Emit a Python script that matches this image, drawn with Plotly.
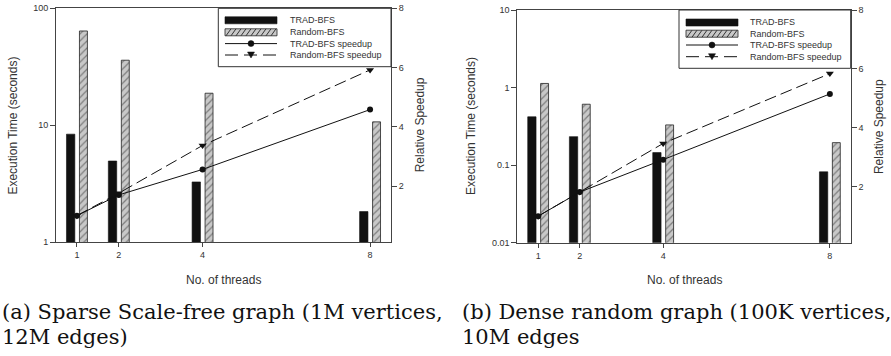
import plotly.graph_objects as go

# ---------------- data ----------------
threads = [1, 2, 4, 8]

sparse_trad_time = [8.4, 4.95, 3.28, 1.83]
sparse_random_time = [64, 36, 18.8, 10.7]
sparse_trad_speedup = [1.0, 1.70, 2.56, 4.58]
sparse_random_speedup = [1.0, 1.76, 3.37, 5.92]

dense_trad_time = [0.42, 0.233, 0.145, 0.082]
dense_random_time = [1.13, 0.61, 0.33, 0.195]
dense_trad_speedup = [1.0, 1.82, 2.92, 5.15]
dense_random_speedup = [1.0, 1.82, 3.47, 5.84]

series_names = ["TRAD-BFS", "Random-BFS", "TRAD-BFS speedup", "Random-BFS speedup"]
sparse_time_ticks = [1, 10, 100]
dense_time_ticks = [0.01, 0.1, 1, 10]
dense_time_labels = ["0.01", "0.1", "1", "10"]
speedup_ticks = [2, 4, 6, 8]
caption_a = ["(a) Sparse Scale-free graph (1M vertices,", "12M edges)"]
caption_b = ["(b) Dense random graph (100K vertices,", "10M edges"]

# ---------------- styles ----------------
W, H = 891, 356
SANS = "Liberation Sans, Arial, sans-serif"
SERIF = "DejaVu Serif, serif"
AX = "#444444"
TXT = "#333333"
INK = "#111111"
HATCH_BG = "#c8c8c8"

fig = go.Figure()


def add_panel(xa, ya_time, ya_speed, trad_t, rand_t, trad_s, rand_s):
    fig.add_trace(go.Bar(
        x=threads, y=trad_t, name=series_names[0], width=0.2, offset=-0.25,
        marker=dict(color=INK, line=dict(color=INK, width=0.6)),
        xaxis=xa, yaxis=ya_time, showlegend=False))
    fig.add_trace(go.Bar(
        x=threads, y=rand_t, name=series_names[1], width=0.19, offset=0.06,
        marker=dict(color=HATCH_BG, line=dict(color="#222222", width=0.8),
                    pattern=dict(shape="/", fgcolor="#333333", size=5,
                                 solidity=0.25, fillmode="overlay")),
        xaxis=xa, yaxis=ya_time, showlegend=False))
    fig.add_trace(go.Scatter(
        x=threads, y=trad_s, name=series_names[2], mode="lines+markers",
        line=dict(color=INK, width=1),
        marker=dict(symbol="circle", size=6, color=INK),
        xaxis=xa, yaxis=ya_speed, showlegend=False))
    fig.add_trace(go.Scatter(
        x=threads, y=rand_s, name=series_names[3], mode="lines+markers",
        line=dict(color=INK, width=1, dash="12px,5px"),
        marker=dict(symbol="triangle-down", size=7, color=INK),
        xaxis=xa, yaxis=ya_speed, showlegend=False))


add_panel("x", "y", "y2", sparse_trad_time, sparse_random_time,
          sparse_trad_speedup, sparse_random_speedup)
add_panel("x2", "y3", "y4", dense_trad_time, dense_random_time,
          dense_trad_speedup, dense_random_speedup)

# panel geometry (pixels -> paper)
L1, R1, T1, B1 = 56, 391, 8.3, 242.3
L2, R2, T2, B2 = 517.3, 850.7, 10, 242.7


def px(x):
    return x / W


def py(y):
    return 1 - y / H


common_x = dict(range=[0.5, 8.5], tickvals=threads, ticks="outside", ticklen=4,
                tickcolor=AX, showline=True, linecolor=AX, linewidth=1, mirror=True,
                showgrid=False, zeroline=False,
                tickfont=dict(family=SANS, size=9, color=TXT))
common_y = dict(ticks="outside", ticklen=5, tickcolor=AX, showline=True,
                linecolor=AX, linewidth=1, showgrid=False, zeroline=False,
                tickfont=dict(family=SANS, size=9, color=TXT))

fig.update_layout(
    width=W, height=H, margin=dict(l=0, r=0, t=0, b=0),
    template="none", paper_bgcolor="white", plot_bgcolor="white",
    barmode="overlay", showlegend=False,
    xaxis=dict(domain=[px(L1), px(R1)], anchor="y", **common_x),
    yaxis=dict(domain=[py(B1), py(T1)], anchor="x", type="log", range=[0, 2],
               tickvals=sparse_time_ticks, ticktext=[str(v) for v in sparse_time_ticks],
               **common_y),
    yaxis2=dict(overlaying="y", anchor="x", side="right", range=[0.1, 8],
                tickvals=speedup_ticks, **common_y),
    xaxis2=dict(domain=[px(L2), px(R2)], anchor="y3", **common_x),
    yaxis3=dict(domain=[py(B2), py(T2)], anchor="x2", type="log", range=[-2, 1],
                tickvals=dense_time_ticks, ticktext=dense_time_labels, **common_y),
    yaxis4=dict(overlaying="y3", anchor="x2", side="right", range=[0.1, 8],
                tickvals=speedup_ticks, **common_y),
)

ann = []
shapes = []

# ---------------- legends (drawn as layout decoration) ----------------
legend_font = dict(family=SANS, size=9, color=TXT)


def legend_box(bx0, bx1, by0, by1, rows, sx0, sx1, tx):
    shapes.append(dict(type="rect", xref="paper", yref="paper",
                       x0=px(bx0), x1=px(bx1), y0=py(by1), y1=py(by0),
                       line=dict(color="#333333", width=1), fillcolor="white",
                       layer="above"))
    sm = (sx0 + sx1) / 2
    # row 1: solid black bar
    r = rows[0]
    shapes.append(dict(type="rect", xref="paper", yref="paper", x0=px(sx0), x1=px(sx1),
                       y0=py(r + 3.5), y1=py(r - 3.5), fillcolor=INK,
                       line=dict(color=INK, width=0.6), layer="above"))
    # row 2: hatched bar
    r = rows[1]
    shapes.append(dict(type="rect", xref="paper", yref="paper", x0=px(sx0), x1=px(sx1),
                       y0=py(r + 3.5), y1=py(r - 3.5), fillcolor=HATCH_BG,
                       line=dict(color="#222222", width=0.8), layer="above"))
    hx = sx0 + 1
    while hx + 5 <= sx1 - 1:
        shapes.append(dict(type="line", xref="paper", yref="paper",
                           x0=px(hx), y0=py(r + 3.5), x1=px(hx + 5), y1=py(r - 3.5),
                           line=dict(color="#333333", width=1), layer="above"))
        hx += 5
    # row 3: solid line with circle
    r = rows[2]
    shapes.append(dict(type="line", xref="paper", yref="paper", x0=px(sx0), x1=px(sx1),
                       y0=py(r), y1=py(r), line=dict(color=INK, width=1), layer="above"))
    shapes.append(dict(type="circle", xref="paper", yref="paper",
                       x0=px(sm - 3), x1=px(sm + 3), y0=py(r + 3), y1=py(r - 3),
                       fillcolor=INK, line=dict(color=INK, width=0.5), layer="above"))
    # row 4: dashed line with triangle-down
    r = rows[3]
    shapes.append(dict(type="line", xref="paper", yref="paper", x0=px(sx0), x1=px(sx1),
                       y0=py(r), y1=py(r), line=dict(color=INK, width=1, dash="13px,6px"),
                       layer="above"))
    path = "M {:.5f},{:.5f} L {:.5f},{:.5f} L {:.5f},{:.5f} Z".format(
        px(sm - 3.5), py(r - 3), px(sm + 3.5), py(r - 3), px(sm), py(r + 3))
    shapes.append(dict(type="path", xref="paper", yref="paper", path=path,
                       fillcolor=INK, line=dict(color=INK, width=0.5), layer="above"))
    for name, r in zip(series_names, rows):
        ann.append(dict(text=name, x=px(tx), y=py(r), xref="paper", yref="paper",
                        showarrow=False, font=legend_font, xanchor="left",
                        yanchor="middle", xshift=-2))


legend_box(218.3, R1, T1, 66.7, [20.3, 32.3, 43.6, 55.0], 225, 277, 290)
legend_box(679, R2, T2, 68.3, [22.5, 33.7, 45.0, 56.7], 686, 738, 750)

# ---------------- axis titles ----------------
title_font = dict(family=SANS, size=12, color=TXT)
for (xl, xr, yt, yb, xt_left) in [(L1, R1, T1, B1, 13.3), (L2, R2, T2, B2, 471.7)]:
    cy = py((yt + yb) / 2)
    ann.append(dict(text="Execution Time (seconds)", x=px(xt_left), y=cy, xref="paper",
                    yref="paper", textangle=-90, showarrow=False, font=title_font,
                    xanchor="center", yanchor="middle"))
    ann.append(dict(text="Relative Speedup", x=px(xr + 29), y=cy, xref="paper",
                    yref="paper", textangle=-90, showarrow=False, font=title_font,
                    xanchor="center", yanchor="middle"))
    ann.append(dict(text="No. of threads", x=px((xl + xr) / 2), y=py(280), xref="paper",
                    yref="paper", showarrow=False, font=title_font,
                    xanchor="center", yanchor="middle"))

# ---------------- captions ----------------
cap_font = dict(family=SERIF, size=21, color="#111111")
for xs, lines in [(0, caption_a), (460, caption_b)]:
    for i, line in enumerate(lines):
        ann.append(dict(text=line, x=px(xs), y=py(312 + 24.5 * i), xref="paper",
                        yref="paper", showarrow=False, font=cap_font,
                        xanchor="left", yanchor="middle"))

fig.update_layout(annotations=ann, shapes=shapes)

fig.write_html("out.html")
